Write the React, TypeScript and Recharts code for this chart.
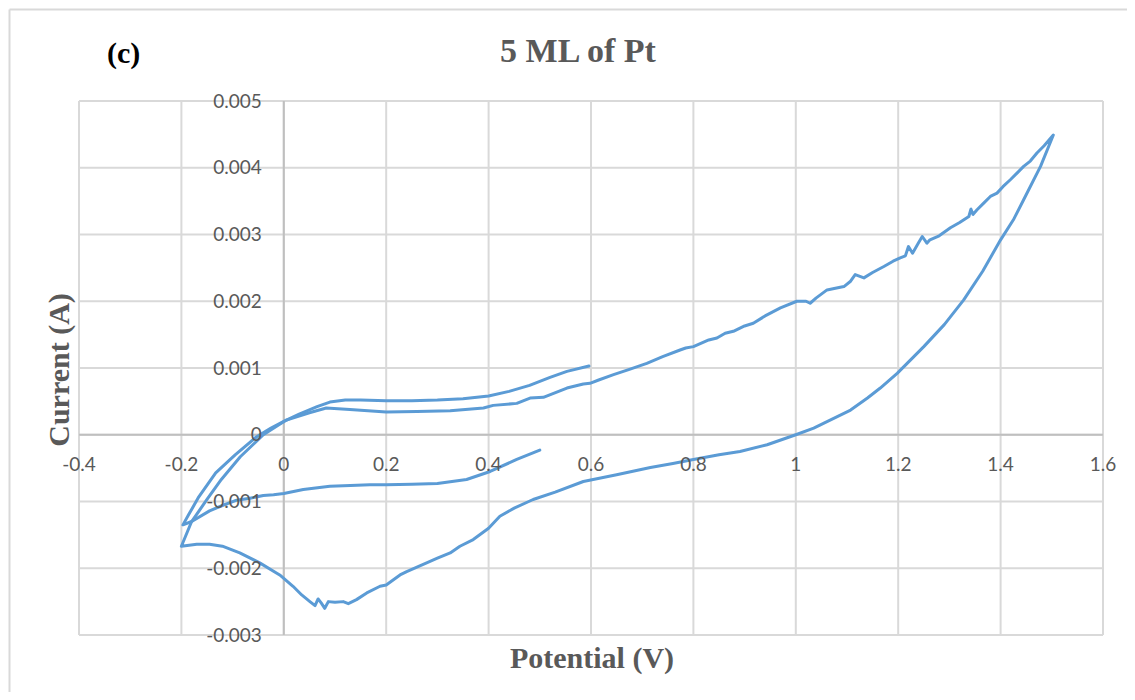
import React from 'react';
import { LineChart, Line, XAxis, YAxis, CartesianGrid, ReferenceLine } from 'recharts';

// Tick values
const xTicks = [-0.4, -0.2, 0, 0.2, 0.4, 0.6, 0.8, 1, 1.2, 1.4, 1.6];
const yTicks = [-0.003, -0.002, -0.001, 0, 0.001, 0.002, 0.003, 0.004, 0.005];

// [Potential (V), Current (A)] pairs
// First sweep: from 0.6 V down to -0.2 V (outer branch)
const firstSweepDown: [number, number][] = [
  [0.596, 0.00103], [0.553, 0.00095], [0.52, 0.00086], [0.48, 0.00074], [0.44, 0.00065],
  [0.40, 0.00058], [0.35, 0.00054], [0.30, 0.00052], [0.25, 0.00051], [0.20, 0.00051],
  [0.15, 0.00052], [0.12, 0.00052], [0.09, 0.00049], [0.065, 0.00042], [0.03, 0.00031],
  [0.0, 0.0002], [-0.025, 0.0001], [-0.053, -0.00003], [-0.095, -0.0003], [-0.133, -0.00057],
  [-0.166, -0.00093], [-0.186, -0.0012], [-0.197, -0.00135],
];
// First sweep back up from -0.2 V to 0.5 V (middle branch)
const firstSweepUp: [number, number][] = [
  [-0.18, -0.0013], [-0.145, -0.00114], [-0.12, -0.00106], [-0.092, -0.00098], [-0.066, -0.00095],
  [-0.04, -0.00091], [-0.02, -0.0009], [0.0, -0.00088], [0.038, -0.00082], [0.09, -0.00077],
  [0.13, -0.00076], [0.168, -0.00075], [0.2, -0.00075], [0.25, -0.00074], [0.3, -0.00073],
  [0.357, -0.00067], [0.403, -0.00055], [0.455, -0.00037], [0.5, -0.00023],
];
// Full cycle: anodic sweep from -0.2 V to 1.5 V
const cycleForward: [number, number][] = [
  [-0.2, -0.00167], [-0.17, -0.00164], [-0.145, -0.00164], [-0.12, -0.00167], [-0.086, -0.00177],
  [-0.047, -0.00192], [-0.008, -0.0021], [0.018, -0.00227], [0.035, -0.0024], [0.051, -0.0025],
  [0.061, -0.00256], [0.067, -0.00246], [0.073, -0.00252], [0.08, -0.0026], [0.087, -0.0025],
  [0.1, -0.00251], [0.116, -0.0025], [0.126, -0.00253], [0.142, -0.00247], [0.162, -0.00237],
  [0.188, -0.00227], [0.2, -0.00225], [0.227, -0.0021], [0.24, -0.00205], [0.279, -0.00192],
  [0.3, -0.00185], [0.325, -0.00177], [0.344, -0.00167], [0.37, -0.00157], [0.4, -0.0014],
  [0.422, -0.00122], [0.45, -0.0011], [0.487, -0.00097], [0.53, -0.00086], [0.585, -0.0007],
  [0.65, -0.0006], [0.716, -0.00049], [0.76, -0.00043], [0.8, -0.00037], [0.85, -0.0003],
  [0.891, -0.00025], [0.944, -0.00015], [1.0, 0.0], [1.035, 0.0001], [1.067, 0.00022],
  [1.107, 0.00037], [1.14, 0.00055], [1.165, 0.0007], [1.198, 0.00092], [1.25, 0.00132],
  [1.29, 0.00165], [1.328, 0.00202], [1.365, 0.00245], [1.4, 0.00292], [1.425, 0.00322],
  [1.445, 0.00352], [1.478, 0.00402], [1.503, 0.00449],
];
// Full cycle: cathodic sweep from 1.5 V back to -0.2 V
const cycleBackward: [number, number][] = [
  [1.485, 0.00433], [1.471, 0.00422], [1.458, 0.0041], [1.445, 0.00402], [1.432, 0.00392],
  [1.419, 0.00382], [1.405, 0.00372], [1.393, 0.00362], [1.38, 0.00357], [1.367, 0.00347],
  [1.354, 0.00337], [1.346, 0.0033], [1.342, 0.00338], [1.338, 0.00327], [1.32, 0.00318],
  [1.302, 0.0031], [1.28, 0.00298], [1.262, 0.00292], [1.256, 0.00287], [1.247, 0.00297],
  [1.24, 0.00288], [1.228, 0.00272], [1.22, 0.00282], [1.214, 0.00268], [1.204, 0.00265],
  [1.19, 0.0026], [1.172, 0.00252], [1.15, 0.00243], [1.133, 0.00235], [1.116, 0.0024],
  [1.107, 0.0023], [1.094, 0.00222], [1.075, 0.00219], [1.061, 0.00217], [1.04, 0.00205],
  [1.028, 0.00197], [1.02, 0.002], [1.002, 0.002], [0.97, 0.0019], [0.94, 0.00178],
  [0.917, 0.00167], [0.9, 0.00163], [0.878, 0.00155], [0.862, 0.00152], [0.846, 0.00145],
  [0.83, 0.00142], [0.8, 0.00132], [0.785, 0.0013], [0.774, 0.00127], [0.74, 0.00117],
  [0.709, 0.00107], [0.675, 0.00098], [0.644, 0.0009], [0.615, 0.00082], [0.598, 0.00077],
  [0.585, 0.00076], [0.553, 0.0007], [0.507, 0.00056], [0.481, 0.00055], [0.455, 0.00047],
  [0.409, 0.00044], [0.39, 0.0004], [0.325, 0.00036], [0.26, 0.00035], [0.2, 0.00034],
  [0.129, 0.00038], [0.083, 0.0004], [0.05, 0.00033], [0.005, 0.00022], [-0.04, 0.0],
  [-0.085, -0.00033], [-0.122, -0.00067], [-0.15, -0.00097], [-0.18, -0.0013], [-0.2, -0.00167],
];

const toPoints = (arr: [number, number][]) => arr.map(([v, i]) => ({ v, i }));
const firstCycle = toPoints([...firstSweepDown, ...firstSweepUp]);
const fullCycle = toPoints([...cycleForward, ...cycleBackward]);

const X_MIN = -0.4, X_MAX = 1.6, Y_MIN = -0.003, Y_MAX = 0.005;
const W = 1119, H = 684;
const M = { top: 93, right: 24, bottom: 56, left: 70 };
const AXIS_SIZE = 1;
const PLOT_LEFT = M.left + AXIS_SIZE;
const PLOT_W = W - PLOT_LEFT - M.right;
const PLOT_H = H - M.top - M.bottom - AXIS_SIZE;
const ZERO_X = PLOT_LEFT + ((0 - X_MIN) / (X_MAX - X_MIN)) * PLOT_W;
const ZERO_Y = M.top + ((Y_MAX - 0) / (Y_MAX - Y_MIN)) * PLOT_H;

const TICK_FONT = 'Lato, "Open Sans", sans-serif';
const SERIF = '"Liberation Serif", "Times New Roman", serif';
const GRAY = '#595959';

const fmtX = (v: number) => (v === 0 ? '0' : String(parseFloat(v.toFixed(1))));
const fmtY = (v: number) => (Math.abs(v) < 1e-12 ? '0' : v.toFixed(3));

const renderXTick = (props: any) => (
  <text key={`xt-${props.index}`} x={props.x} y={ZERO_Y + 36} textAnchor="middle" fill={GRAY}
    fontSize={19} fontFamily={TICK_FONT}>
    {fmtX(props.payload.value)}
  </text>
);
const renderYTick = (props: any) => (
  <text key={`yt-${props.index}`} x={ZERO_X - 22} y={props.y + 6.5} textAnchor="end" fill={GRAY}
    fontSize={19} fontFamily={TICK_FONT}>
    {fmtY(props.payload.value)}
  </text>
);

export default function App() {
  return (
    <div style={{ position: 'relative', width: W, height: H }}>
      <LineChart width={W} height={H} margin={M}>
        <CartesianGrid stroke="#d9d9d9" strokeWidth={2} />
        <XAxis
          dataKey="v"
          type="number"
          domain={[X_MIN, X_MAX]}
          ticks={xTicks}
          interval={0}
          allowDataOverflow
          height={AXIS_SIZE}
          axisLine={false}
          tickLine={false}
          tick={renderXTick}
        />
        <YAxis
          type="number"
          domain={[Y_MIN, Y_MAX]}
          ticks={yTicks}
          interval={0}
          allowDataOverflow
          width={AXIS_SIZE}
          axisLine={false}
          tickLine={false}
          tick={renderYTick}
        />
        <ReferenceLine x={0} stroke="#bfbfbf" strokeWidth={2} />
        <ReferenceLine y={0} stroke="#bfbfbf" strokeWidth={2} />
        <Line data={firstCycle} dataKey="i" stroke="#5b9bd5" strokeWidth={3} dot={false}
          isAnimationActive={false} strokeLinejoin="round" strokeLinecap="round" />
        <Line data={fullCycle} dataKey="i" stroke="#5b9bd5" strokeWidth={3} dot={false}
          isAnimationActive={false} strokeLinejoin="round" strokeLinecap="round" />
      </LineChart>
      <svg width={W} height={H} style={{ position: 'absolute', left: 0, top: 0, pointerEvents: 'none' }}>
        <line x1={1.5} y1={1.5} x2={W} y2={1.5} stroke="#d9d9d9" strokeWidth={2} />
        <line x1={1.5} y1={1.5} x2={1.5} y2={H} stroke="#d9d9d9" strokeWidth={2} />
        <text x={99} y={54.5} fontFamily={SERIF} fontWeight="bold" fontSize={30} fill="#000">(c)</text>
        <text x={570} y={54} textAnchor="middle" fontFamily={SERIF} fontWeight="bold" fontSize={34} fill={GRAY}>
          5 ML of Pt
        </text>
        <text x={584} y={660} textAnchor="middle" fontFamily={SERIF} fontWeight="bold" fontSize={30} fill={GRAY}>
          Potential (V)
        </text>
        <text x={61} y={362} textAnchor="middle" transform="rotate(-90 61 362)" fontFamily={SERIF}
          fontWeight="bold" fontSize={30} fill={GRAY}>
          Current (A)
        </text>
      </svg>
    </div>
  );
}
